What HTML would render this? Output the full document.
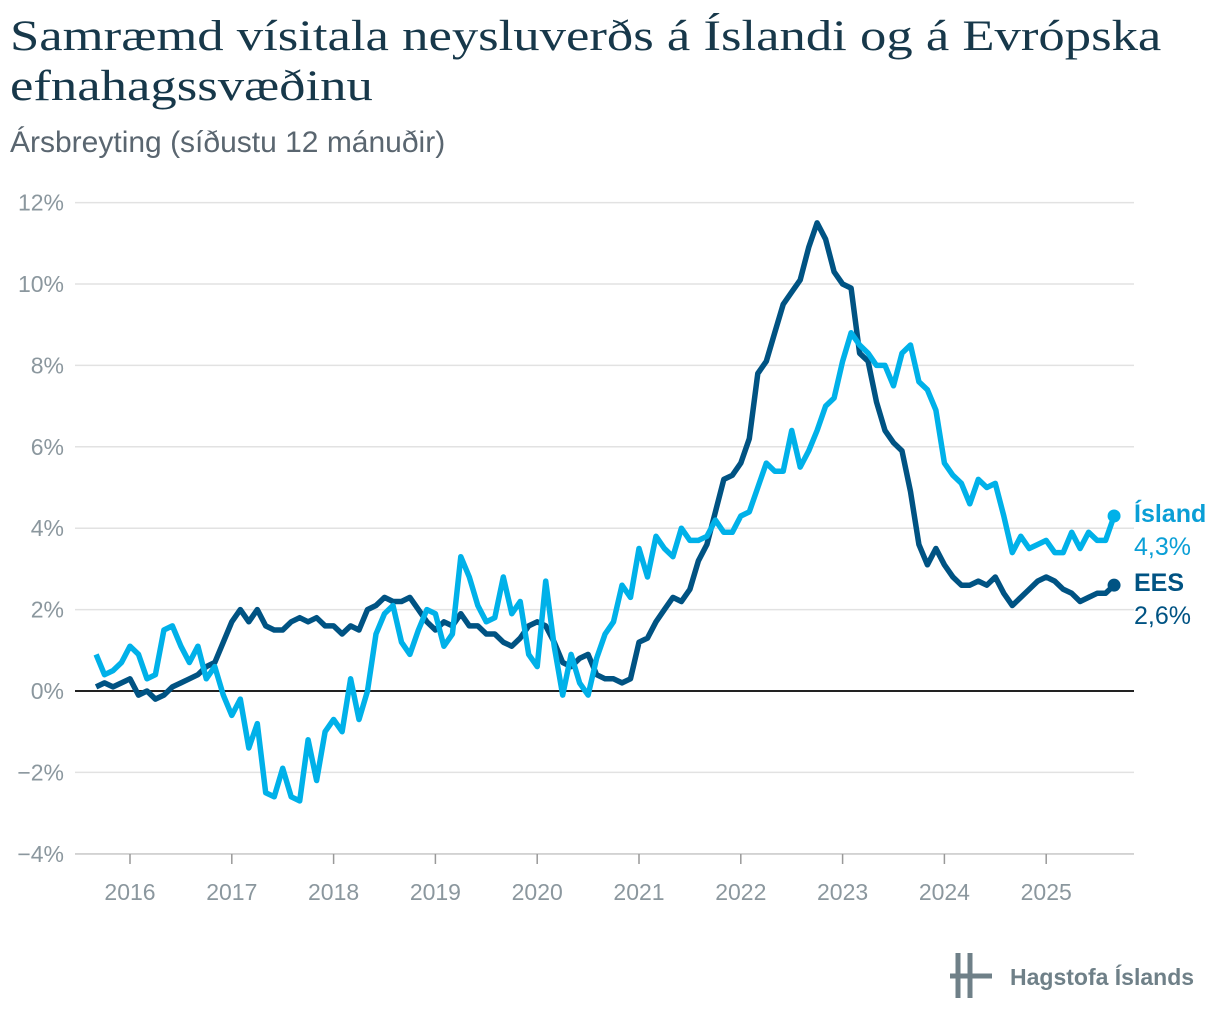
<!DOCTYPE html>
<html><head><meta charset="utf-8"><style>
body{margin:0;background:#fff;width:1220px;height:1026px;overflow:hidden;font-family:"Liberation Sans",sans-serif}
.t{position:absolute;left:10px;top:12px;font-family:"Liberation Serif",serif;font-size:43px;color:#17384a;line-height:50px;white-space:nowrap;transform:scaleX(1.225);transform-origin:0 0}
.s{position:absolute;left:10px;top:126px;font-size:30px;color:#5a6670}
</style></head><body>
<div class="t">Samræmd vísitala neysluverðs á Íslandi og á Evrópska<br>efnahagssvæðinu</div>
<div class="s">Ársbreyting (síðustu 12 mánuðir)</div>
<svg id="c" width="1220" height="1026" style="position:absolute;left:0;top:0"></svg>
<script>
const yTicks=[-4,-2,0,2,4,6,8,10,12];
const years=[2016,2017,2018,2019,2020,2021,2022,2023,2024,2025];
const island=[0.9,0.4,0.5,0.7,1.1,0.9,0.3,0.4,1.5,1.6,1.1,0.7,1.1,0.3,0.6,-0.1,-0.6,-0.2,-1.4,-0.8,-2.5,-2.6,-1.9,-2.6,-2.7,-1.2,-2.2,-1.0,-0.7,-1.0,0.3,-0.7,0.0,1.4,1.9,2.1,1.2,0.9,1.5,2.0,1.9,1.1,1.4,3.3,2.8,2.1,1.7,1.8,2.8,1.9,2.2,0.9,0.6,2.7,1.1,-0.1,0.9,0.2,-0.1,0.8,1.4,1.7,2.6,2.3,3.5,2.8,3.8,3.5,3.3,4.0,3.7,3.7,3.8,4.2,3.9,3.9,4.3,4.4,5.0,5.6,5.4,5.4,6.4,5.5,5.9,6.4,7.0,7.2,8.1,8.8,8.5,8.3,8.0,8.0,7.5,8.3,8.5,7.6,7.4,6.9,5.6,5.3,5.1,4.6,5.2,5.0,5.1,4.3,3.4,3.8,3.5,3.6,3.7,3.4,3.4,3.9,3.5,3.9,3.7,3.7,4.3];
const ees=[0.1,0.2,0.1,0.2,0.3,-0.1,0.0,-0.2,-0.1,0.1,0.2,0.3,0.4,0.6,0.7,1.2,1.7,2.0,1.7,2.0,1.6,1.5,1.5,1.7,1.8,1.7,1.8,1.6,1.6,1.4,1.6,1.5,2.0,2.1,2.3,2.2,2.2,2.3,2.0,1.7,1.5,1.7,1.6,1.9,1.6,1.6,1.4,1.4,1.2,1.1,1.3,1.6,1.7,1.6,1.2,0.7,0.6,0.8,0.9,0.4,0.3,0.3,0.2,0.3,1.2,1.3,1.7,2.0,2.3,2.2,2.5,3.2,3.6,4.4,5.2,5.3,5.6,6.2,7.8,8.1,8.8,9.5,9.8,10.1,10.9,11.5,11.1,10.3,10.0,9.9,8.3,8.1,7.1,6.4,6.1,5.9,4.9,3.6,3.1,3.5,3.1,2.8,2.6,2.6,2.7,2.6,2.8,2.4,2.1,2.3,2.5,2.7,2.8,2.7,2.5,2.4,2.2,2.3,2.4,2.4,2.6];
const NS="http://www.w3.org/2000/svg",svg=document.getElementById('c');
const y=v=>691-v*40.7;
const x=m=>130+(m-(2016*12))*101.8/12;
const start=2015*12+8;
function mk(t,a,txt){const e=document.createElementNS(NS,t);for(const k in a)e.setAttribute(k,a[k]);if(txt!=null)e.textContent=txt;svg.appendChild(e);return e;}
yTicks.forEach(v=>{
 const g=mk('line',{x1:75,x2:1134,y1:y(v),y2:y(v),stroke:v===0?'#222':'#e2e2e2','stroke-width':v===0?2:1.5});
 
 
 const t=mk('text',{x:64,y:y(v)+8,'text-anchor':'end','font-size':23,fill:'#8b979e','font-family':'Liberation Sans, sans-serif'},(v<0?'−':'')+Math.abs(v)+'%');
 
 
});
mk('line',{x1:75,x2:1134,y1:854,y2:854,stroke:'#ccc','stroke-width':1.5});
years.forEach(yr=>{
 const xx=x(yr*12);
 const l=mk('line',{x1:xx,x2:xx,y1:854,y2:864,stroke:'#999','stroke-width':1.5});
 
 
 const t=mk('text',{x:xx,y:900,'text-anchor':'middle','font-size':23,fill:'#8b979e','font-family':'Liberation Sans, sans-serif'},yr);
 
 
});
function line(arr,col,name){
 const d=arr.map((v,i)=>(i?'L':'M')+x(start+i).toFixed(1)+','+y(v).toFixed(1)).join('');
 const p=mk('path',{d:d,fill:'none',stroke:col,'stroke-width':5.5,'stroke-linejoin':'round'});
 
 
 const n=arr.length-1;
 const c=mk('circle',{cx:x(start+n),cy:y(arr[n]),r:6.5,fill:col});
 
 
 return [x(start+n),y(arr[n])];
}
line(ees,'#005383','ees');
const pi=line(island,'#00b1e9','island');
const pe=[x(start+ees.length-1),y(ees[ees.length-1])];
function lab(px,py,name,val,col,key){
 const a=mk('text',{x:1134,y:py+6,'font-size':25,'font-weight':'bold',fill:col,'font-family':'Liberation Sans, sans-serif'},name);
 
 
 const b=mk('text',{x:1134,y:py+39,'font-size':25,fill:col,'font-family':'Liberation Sans, sans-serif'},val);
 
 
}
lab(pi[0],pi[1],'Ísland',island[island.length-1].toFixed(1).replace('.',',')+'%','#0a9fd6','island');
lab(pe[0],pe[1],'EES',ees[ees.length-1].toFixed(1).replace('.',',')+'%','#005383','ees');
const lg=mk('g',{});


[[958,958,953,998],[970,970,953,998]].forEach(r=>{mk('line',{x1:r[0],x2:r[1],y1:r[2],y2:r[3],stroke:'#6f8088','stroke-width':5});});
mk('line',{x1:950,x2:992,y1:976,y2:976,stroke:'#6f8088','stroke-width':5});
const lt=mk('text',{x:1010,y:985,'font-size':23,'font-weight':'bold',fill:'#6f8088','font-family':'Liberation Sans, sans-serif'},'Hagstofa Íslands');


</script>
</body></html>
